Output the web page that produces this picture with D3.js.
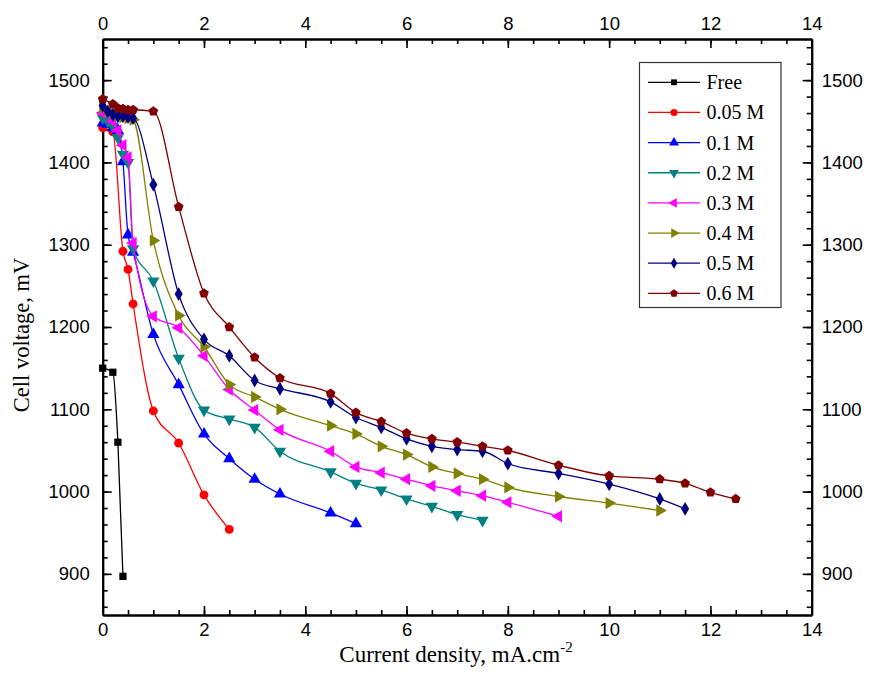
<!DOCTYPE html>
<html><head><meta charset="utf-8">
<script src="https://cdn.jsdelivr.net/npm/d3@7/dist/d3.min.js"></script>
<style>body{margin:0;background:#fff}</style>
</head><body>
<svg id="chart" width="870" height="697"></svg>
<script>
// ---- data ----
const seriesNames = ["Free", "0.05 M", "0.1 M", "0.2 M", "0.3 M", "0.4 M", "0.5 M", "0.6 M"];
const seriesColors = ["#000000", "#FF0000", "#0000FF", "#008080", "#FF00FF", "#808000", "#000080", "#800000"];
const seriesSymbols = ["square", "circle", "triUp", "triDown", "triLeft", "triRight", "diamond", "pentagon"];

const xFree = [0, 0.2, 0.3, 0.4];
const yFree = [1150, 1145, 1060, 897];
const x005 = [0, 0.2, 0.4, 0.5, 0.6, 1, 1.5, 2, 2.5];
const y005 = [1442, 1437, 1292, 1270, 1228, 1098, 1059, 996, 954];
const x01 = [0, 0.1, 0.2, 0.3, 0.4, 0.5, 0.6, 1, 1.5, 2, 2.5, 3, 3.5, 4.5, 5];
const y01 = [1448, 1446, 1442, 1439, 1401, 1312, 1291, 1191, 1130, 1070, 1040, 1015, 997, 974, 961];
const x02 = [0, 0.1, 0.2, 0.3, 0.4, 0.5, 0.6, 1, 1.5, 2, 2.5, 3, 3.5, 4.5, 5, 5.5, 6, 6.5, 7, 7.5];
const y02 = [1454, 1450, 1444, 1430, 1410, 1400, 1295, 1256, 1162, 1099, 1088, 1078, 1049, 1024, 1010, 1002, 991, 982, 972, 965];
const x03 = [0, 0.2, 0.3, 0.4, 0.5, 0.6, 1, 1.5, 2, 2.5, 3, 3.5, 4.5, 5, 5.5, 6, 6.5, 7, 7.5, 8, 9];
const y03 = [1460, 1450, 1439, 1421, 1406, 1302, 1213, 1199, 1165, 1124, 1099, 1075, 1049, 1030, 1023, 1015, 1007, 1001, 995, 987, 970];
const x04 = [0, 0.1, 0.2, 0.3, 0.4, 0.5, 0.6, 1, 1.5, 2, 2.5, 3, 3.5, 4.5, 5, 5.5, 6, 6.5, 7, 7.5, 8, 9, 10, 11];
const y04 = [1466, 1462, 1460, 1457, 1455, 1454, 1452, 1305, 1214, 1176, 1130, 1115, 1100, 1080, 1070, 1055, 1045, 1030, 1022, 1015, 1005, 994, 986, 977];
const x05 = [0, 0.1, 0.2, 0.3, 0.4, 0.5, 0.6, 1, 1.5, 2, 2.5, 3, 3.5, 4.5, 5, 5.5, 6, 6.5, 7, 7.5, 8, 9, 10, 11, 11.5];
const y05 = [1469, 1462, 1458, 1456, 1456, 1455, 1454, 1373, 1240, 1185, 1165, 1135, 1125, 1109, 1090, 1078, 1064, 1055, 1051, 1049, 1034, 1022, 1009, 991, 979];
const x06 = [0, 0.2, 0.3, 0.4, 0.5, 0.6, 1, 1.5, 2, 2.5, 3, 3.5, 4.5, 5, 5.5, 6, 6.5, 7, 7.5, 8, 9, 10, 11, 11.5, 12, 12.5];
const y06 = [1477, 1471, 1466, 1465, 1464, 1464, 1462, 1346, 1241, 1200, 1163, 1138, 1119, 1096, 1085, 1071, 1064, 1060, 1055, 1050, 1032, 1019, 1015, 1010, 999, 991];

const xSeries = [xFree, x005, x01, x02, x03, x04, x05, x06];
const ySeries = [yFree, y005, y01, y02, y03, y04, y05, y06];

const xMajorTicks = [0, 2, 4, 6, 8, 10, 12, 14];
const yMajorTicks = [900, 1000, 1100, 1200, 1300, 1400, 1500];
const xTitle = "Current density, mA.cm";
const xTitleSup = "-2";
const yTitle = "Cell voltage, mV";

// ---- layout ----
const svg = d3.select("#chart");
const L = 102.7, R = 811.7, T = 39, B = 615;
const x = d3.scaleLinear().domain([0, 14]).range([L, R]);
const y = d3.scaleLinear().domain([850, 1550]).range([B, T]);

const xMinor = d3.range(0, 14.001, 0.5);
const yMinor = d3.range(860, 1550.001, 20);

const tickFont = "'Liberation Sans', Arial, sans-serif";
const serif = "'Liberation Serif', 'Times New Roman', serif";

function styleAxis(g) {
  g.selectAll(".domain").attr("stroke", "#000").attr("stroke-width", 2);
  g.selectAll(".tick line").attr("stroke", "#000").attr("stroke-width", 1.6);
  g.selectAll(".tick text").attr("font-family", tickFont).attr("font-size", 18.5).attr("fill", "#000");
}

// minor ticks
svg.append("g").attr("transform", `translate(0,${B})`)
  .call(d3.axisBottom(x).tickValues(xMinor).tickFormat("").tickSizeInner(-5).tickSizeOuter(0)).call(styleAxis);
svg.append("g").attr("transform", `translate(0,${T})`)
  .call(d3.axisTop(x).tickValues(xMinor).tickFormat("").tickSizeInner(-5).tickSizeOuter(0)).call(styleAxis);
svg.append("g").attr("transform", `translate(${L},0)`)
  .call(d3.axisLeft(y).tickValues(yMinor).tickFormat("").tickSizeInner(-5).tickSizeOuter(0)).call(styleAxis);
svg.append("g").attr("transform", `translate(${R},0)`)
  .call(d3.axisRight(y).tickValues(yMinor).tickFormat("").tickSizeInner(-5).tickSizeOuter(0)).call(styleAxis);

// major ticks
svg.append("g").attr("transform", `translate(0,${B})`)
  .call(d3.axisBottom(x).tickValues(xMajorTicks).tickFormat(d3.format("d")).tickSizeInner(-9).tickSizeOuter(0).tickPadding(8)).call(styleAxis);
svg.append("g").attr("transform", `translate(0,${T})`)
  .call(d3.axisTop(x).tickValues(xMajorTicks).tickFormat(d3.format("d")).tickSizeInner(-9).tickSizeOuter(0).tickPadding(9)).call(styleAxis);
svg.append("g").attr("transform", `translate(${L},0)`)
  .call(d3.axisLeft(y).tickValues(yMajorTicks).tickFormat(d3.format("d")).tickSizeInner(-9).tickSizeOuter(0).tickPadding(13)).call(styleAxis);
svg.append("g").attr("transform", `translate(${R},0)`)
  .call(d3.axisRight(y).tickValues(yMajorTicks).tickFormat(d3.format("d")).tickSizeInner(-9).tickSizeOuter(0).tickPadding(10)).call(styleAxis);

// symbols
const pentagon = {
  draw(ctx, size) {
    const r = Math.sqrt(size / 2.378);
    for (let i = 0; i < 5; i++) {
      const a = -Math.PI / 2 + i * 2 * Math.PI / 5;
      const px = r * Math.cos(a), py = r * Math.sin(a);
      if (i === 0) ctx.moveTo(px, py); else ctx.lineTo(px, py);
    }
    ctx.closePath();
  }
};
function symbolPath(kind, size) {
  const map = {
    square: [d3.symbolSquare, 0], circle: [d3.symbolCircle, 0],
    triUp: [d3.symbolTriangle, 0], triDown: [d3.symbolTriangle, 180],
    triLeft: [d3.symbolTriangle, -90], triRight: [d3.symbolTriangle, 90],
    diamond: [d3.symbolDiamond, 0], pentagon: [pentagon, 0]
  };
  const [type, rot] = map[kind];
  let s = size;
  if (kind === "square") s = size * 0.85;
  if (kind === "diamond") s = size * 0.9;
  if (kind.startsWith("tri")) s = size * 1.05;
  return { d: d3.symbol().type(type).size(s)(), rot };
}

const line = d3.line().x(d => x(d[0])).y(d => y(d[1])).curve(d3.curveMonotoneX);

const plot = svg.append("g");
seriesNames.forEach((name, i) => {
  const pts = xSeries[i].map((xv, j) => [xv, ySeries[i][j]]);
  const g = plot.append("g");
  g.append("path").datum(pts).attr("d", line)
    .attr("fill", "none").attr("stroke", seriesColors[i]).attr("stroke-width", 1.3);
  const sp = symbolPath(seriesSymbols[i], 62);
  g.selectAll("path.m").data(pts).enter().append("path").attr("class", "m")
    .attr("d", sp.d)
    .attr("transform", d => `translate(${x(d[0])},${y(d[1])}) rotate(${sp.rot})`)
    .attr("fill", seriesColors[i]);
});

// legend
const lg = svg.append("g");
lg.append("rect").attr("x", 639.5).attr("y", 62.5).attr("width", 141.5).attr("height", 245)
  .attr("fill", "#fff").attr("stroke", "#333").attr("stroke-width", 1.2);
seriesNames.forEach((name, i) => {
  const yy = 82.3 + i * 30.15;
  lg.append("line").attr("x1", 648).attr("x2", 700).attr("y1", yy).attr("y2", yy)
    .attr("stroke", seriesColors[i]).attr("stroke-width", 1.3);
  const sp = symbolPath(seriesSymbols[i], 40);
  lg.append("path").attr("d", sp.d).attr("transform", `translate(674,${yy}) rotate(${sp.rot})`)
    .attr("fill", seriesColors[i]);
  lg.append("text").attr("x", 706.5).attr("y", yy).attr("dy", "0.35em")
    .attr("font-family", serif).attr("font-size", 20).attr("fill", "#000").text(name);
});

// axis titles
const xt = svg.append("text").attr("x", 456).attr("y", 662).attr("text-anchor", "middle")
  .attr("font-family", serif).attr("font-size", 23).attr("fill", "#000");
xt.append("tspan").text(xTitle);
xt.append("tspan").attr("dy", -10).attr("font-size", 15).text(xTitleSup);

svg.append("text").attr("transform", "translate(29,335) rotate(-90)").attr("text-anchor", "middle")
  .attr("font-family", serif).attr("font-size", 22.5).attr("fill", "#000").text(yTitle);
</script>
</body></html>
